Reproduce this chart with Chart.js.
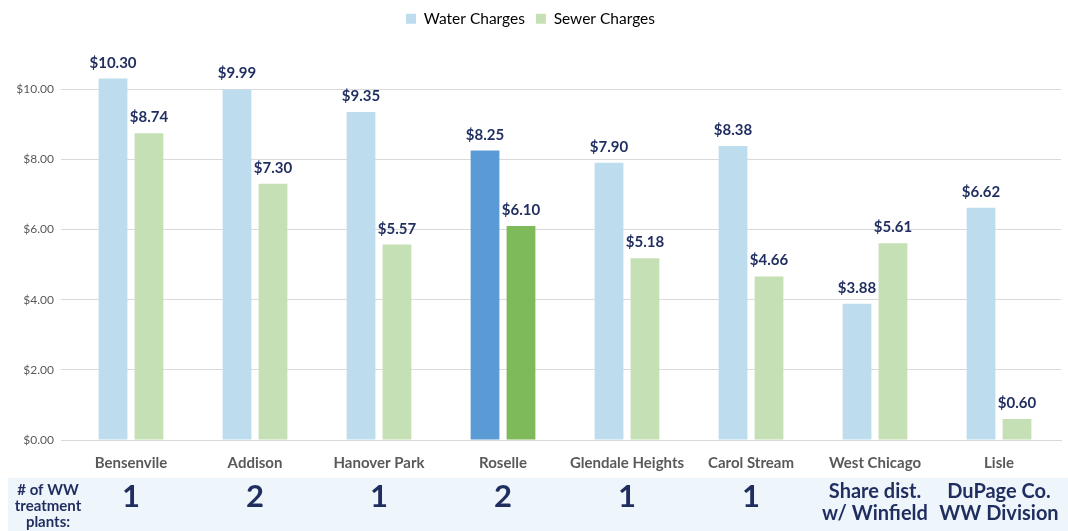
<!DOCTYPE html>
<html>
<head>
<meta charset="utf-8">
<script src="https://cdn.jsdelivr.net/npm/chart.js@4/dist/chart.umd.min.js"></script>
<style>
  html, body { margin: 0; padding: 0; background: #fff; }
  #wrap { width: 1068px; height: 531px; position: relative; }
</style>
</head>
<body>
<div id="wrap"><canvas id="grafico" width="1068" height="531"></canvas></div>
<script>
const towns = ["Bensenvile", "Addison", "Hanover Park", "Roselle", "Glendale Heights", "Carol Stream", "West Chicago", "Lisle"];
const waterCharges = [10.30, 9.99, 9.35, 8.25, 7.90, 8.38, 3.88, 6.62];
const sewerCharges = [8.74, 7.30, 5.57, 6.10, 5.18, 4.66, 5.61, 0.60];
const plants = [["1"], ["2"], ["1"], ["2"], ["1"], ["1"], ["Share dist.", "w/ Winfield"], ["DuPage Co.", "WW Division"]];
const highlight = "Roselle";

const navy = "#1F2D5F";
const waterColors = towns.map((t) => (t === highlight ? "#5B9BD5" : "#BDDDEF"));
const sewerColors = towns.map((t) => (t === highlight ? "#7FBA5A" : "#C5E0B4"));

// etiquetas de valor acima das barras
const valueLabels = {
  id: "valueLabels",
  afterDatasetsDraw(chart) {
    const ctx = chart.ctx;
    ctx.save();
    ctx.font = "bold 15px Lato";
    ctx.fillStyle = navy;
    ctx.textAlign = "center";
    ctx.textBaseline = "alphabetic";
    chart.data.datasets.forEach((ds, i) => {
      chart.getDatasetMeta(i).data.forEach((bar, j) => {
        ctx.fillText("$" + ds.data[j].toFixed(2), bar.x, bar.y - 11);
      });
    });
    ctx.restore();
  },
};

// faixa inferior com o número de estações
const plantsRow = {
  id: "plantsRow",
  beforeDraw(chart) {
    const ctx = chart.ctx;
    ctx.save();
    ctx.fillStyle = "#EEF5FB";
    ctx.fillRect(8, 478, chart.width - 8, chart.height - 478);
    ctx.restore();
  },
  afterDraw(chart) {
    const ctx = chart.ctx;
    const x = chart.scales.x;
    ctx.save();
    ctx.fillStyle = navy;
    ctx.textAlign = "center";
    ctx.textBaseline = "middle";
    ctx.font = "bold 15px Lato";
    ["# of WW", "treatment", "plants:"].forEach((l, k) => ctx.fillText(l, 48, 490 + k * 16));
    plants.forEach((p, i) => {
      const cx = x.getPixelForValue(i);
      if (p.length === 1) {
        ctx.font = "bold 31px Lato";
        ctx.fillText(p[0], cx, 497);
      } else {
        ctx.font = "bold 20px Lato";
        p.forEach((l, k) => ctx.fillText(l, cx, 492 + k * 22));
      }
    });
    ctx.restore();
  },
};

new Chart(document.getElementById("grafico").getContext("2d"), {
  type: "bar",
  data: {
    labels: towns,
    datasets: [
      { label: "Water Charges", data: waterCharges, backgroundColor: waterColors },
      { label: "Sewer Charges", data: sewerCharges, backgroundColor: sewerColors },
    ],
  },
  options: {
    responsive: false,
    animation: false,
    layout: { padding: { left: 0, right: 7, top: 0, bottom: 0 } },
    datasets: { bar: { categoryPercentage: 0.58, barPercentage: 0.8 } },
    plugins: {
      tooltip: { enabled: false },
      legend: {
        position: "top",
        labels: {
          boxWidth: 10,
          boxHeight: 10,
          padding: 11,
          color: "#595959",
          font: { family: "Lato", size: 15.5 },
          generateLabels: (chart) =>
            chart.data.datasets.map((ds, i) => ({
              text: ds.label,
              fillStyle: i === 0 ? "#BDDDEF" : "#C5E0B4",
              strokeStyle: "transparent",
              lineWidth: 0,
              datasetIndex: i,
            })),
        },
      },
    },
    scales: {
      x: {
        grid: { display: false },
        border: { color: "#D9D9D9" },
        ticks: { color: "#595959", font: { family: "Lato", size: 15, weight: "bold" }, padding: 6 },
        afterFit: (s) => { s.height = 91; },
      },
      y: {
        min: 0,
        max: 11.5,
        grid: { color: "#D9D9D9" },
        border: { display: false },
        ticks: {
          stepSize: 2,
          color: "#595959",
          font: { family: "Lato", size: 12 },
          padding: 7,
          callback: (v) => "$" + Number(v).toFixed(2),
        },
        afterBuildTicks: (s) => { s.ticks = s.ticks.filter((t) => t.value <= 10 && t.value % 2 === 0); },
        afterFit: (s) => { s.width = 69; },
      },
    },
  },
  plugins: [valueLabels, plantsRow],
});
</script>
</body>
</html>
